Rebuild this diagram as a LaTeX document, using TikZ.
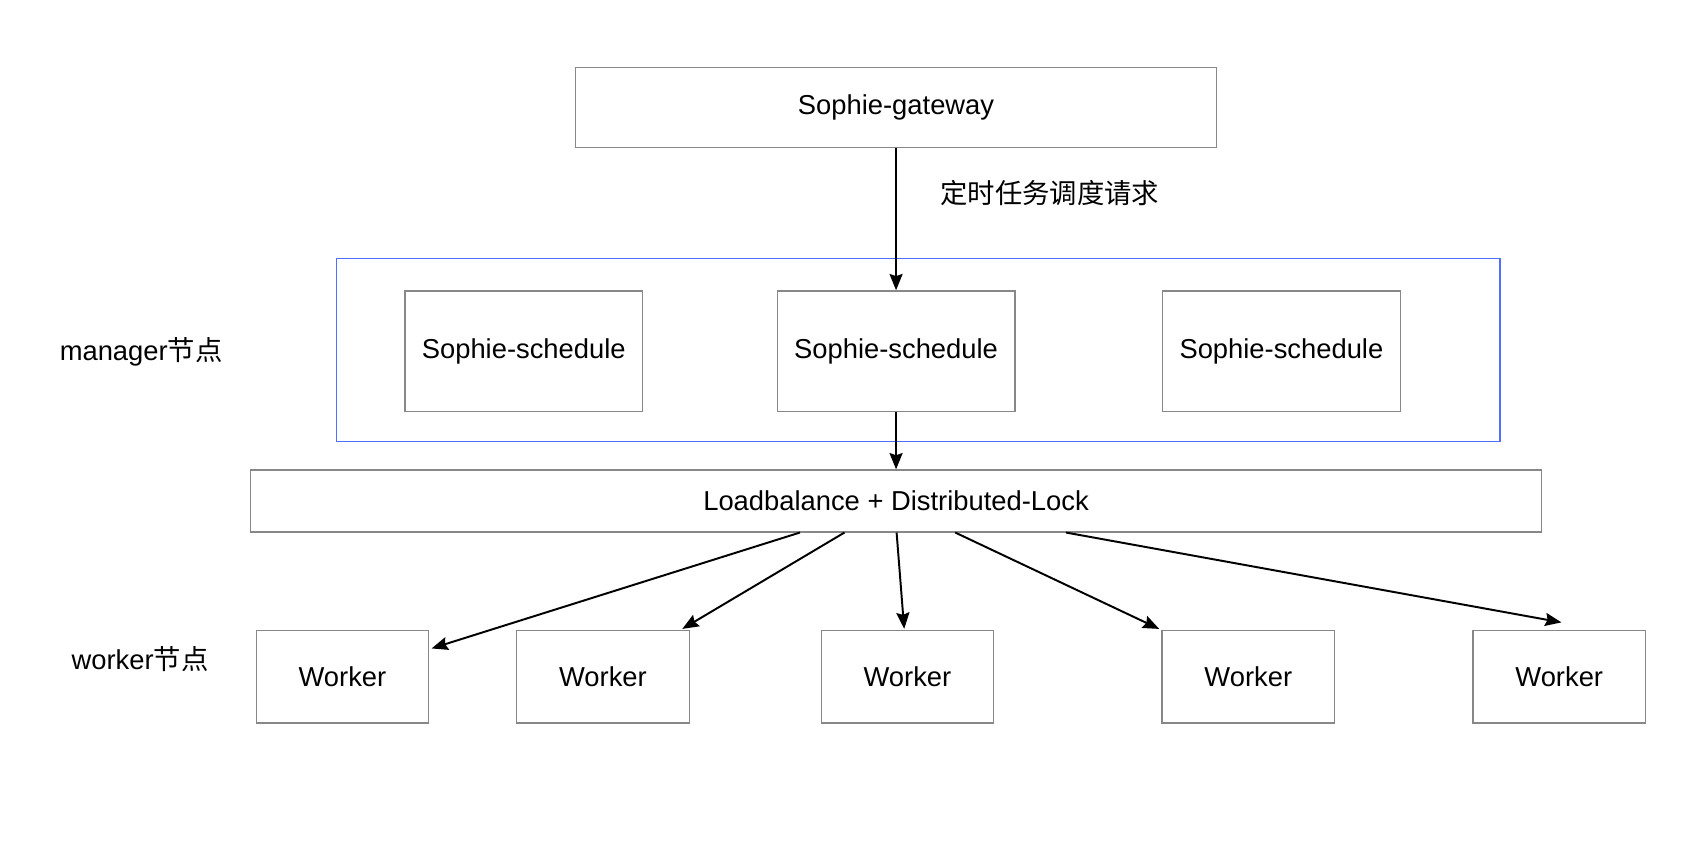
\documentclass[tikz,border=0pt]{standalone}
\usepackage{fontspec}
\setmainfont{Liberation Sans}
\newfontfamily\cjk{Noto Sans CJK SC}
\usetikzlibrary{arrows.meta}
\definecolor{boxgray}{RGB}{136,136,136}
\definecolor{groupblue}{RGB}{80,110,255}
\begin{document}
\begin{tikzpicture}[x=0.5pt,y=-0.5pt,
  every node/.style={font=\fontsize{12.6pt}{15pt}\selectfont},
  box/.style={draw=boxgray,line width=0.6pt,inner sep=0pt,fill=white},
  group/.style={draw=groupblue,line width=0.6pt,inner sep=0pt},
  arr/.style={line width=0.9pt,-{Stealth[length=7.5pt,width=6pt,inset=1pt]}},
  lbl/.style={inner sep=0pt}]
\useasboundingbox[fill=white] (0,0) rectangle (1568,774);
% group container
\node[group,minimum width=536pt,minimum height=84.5pt] (grp) at (846,322.5) {};
% gateway
\node[box,minimum width=295.5pt,minimum height=37pt] (gw) at (825.5,99) {Sophie-gateway};
% schedules
\node[box,minimum width=109.5pt,minimum height=55.5pt] (s1) at (482.5,323.5) {Sophie-schedule};
\node[box,minimum width=109.5pt,minimum height=55.5pt] (s2) at (825.5,323.5) {Sophie-schedule};
\node[box,minimum width=109.5pt,minimum height=55.5pt] (s3) at (1180.5,323.5) {Sophie-schedule};
% load balancer
\node[box,minimum width=594.5pt,minimum height=28.5pt] (lb) at (825.5,461.5) {Loadbalance + Distributed-Lock};
% workers
\node[box,minimum width=79.5pt,minimum height=42.5pt] (w1) at (315.5,623.5) {Worker};
\node[box,minimum width=79.5pt,minimum height=42.5pt] (w2) at (555.5,623.5) {Worker};
\node[box,minimum width=79.5pt,minimum height=42.5pt] (w3) at (836,623.5) {Worker};
\node[box,minimum width=79.5pt,minimum height=42.5pt] (w4) at (1150,623.5) {Worker};
\node[box,minimum width=79.5pt,minimum height=42.5pt] (w5) at (1436.5,623.5) {Worker};
% labels
\node[lbl] (mgr) at (130,324) {manager{\cjk 节点}};
\node[lbl] (wkr) at (129,607) {worker{\cjk 节点}};
\node[lbl,anchor=west] (req) at (866,178) {\cjk 定时任务调度请求};
% connectors
\draw[arr] (gw.south) -- (s2.north);
\draw[arr] (s2.south) -- (lb.north);
\draw[arr] ([xshift=-44.25pt]lb.south) -- ([shift={(2,17)}]w1.north east);
\draw[arr] ([xshift=-23.75pt]lb.south) -- ([shift={(-7,-1)}]w2.north east);
\draw[arr] ([xshift=0.25pt]lb.south) -- ([shift={(-3,-1)}]w3.north);
\draw[arr] ([xshift=27.25pt]lb.south) -- ([shift={(-2,-1)}]w4.north west);
\draw[arr] ([xshift=78.25pt]lb.south) -- ([shift={(2,-7)}]w5.north);
\end{tikzpicture}
\end{document}
